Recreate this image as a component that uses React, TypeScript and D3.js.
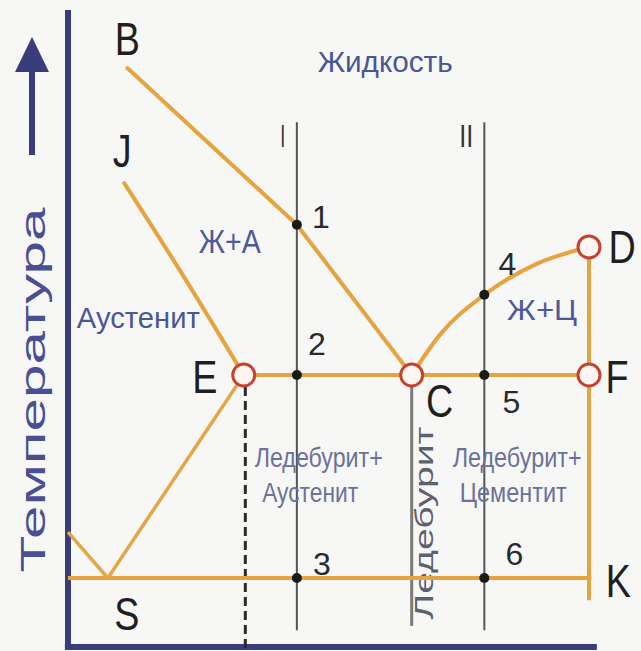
import React, { useEffect, useRef } from 'react';
import * as d3 from 'd3';

// Schematic Fe–Fe3C diagram, carbon content (%) vs temperature (°C)
const liquidusBC = [[0.76, 1782], [2.93, 1458], [4.4, 1147]];
const liquidusCD = [[4.4, 1147], [4.76, 1230], [5.33, 1313], [6.0, 1377], [6.67, 1412]];
const solidusJE = [[0.72, 1544], [1.43, 1364], [2.25, 1147]];
const lineES = [[2.25, 1147], [0.51, 727]];
const lineGS = [[0, 822], [0.51, 727]];
const eutecticECF = [[2.25, 1147], [6.67, 1147]];
const eutectoidPSK = [[0, 727], [6.7, 727]];
const cementiteDK = [[6.67, 1412], [6.67, 681]];

const pointNames = ['B', 'J', 'E', 'C', 'D', 'F', 'S', 'K'];
const pointCarbon = [0.76, 0.72, 2.25, 4.4, 6.67, 6.67, 0.51, 6.7];
const pointTemp = [1782, 1544, 1147, 1147, 1412, 1147, 727, 727];
const ringPoints = ['E', 'C', 'D', 'F'];

const crossNames = ['1', '2', '3', '4', '5', '6'];
const crossCarbon = [2.93, 2.93, 2.93, 5.33, 5.33, 5.33];
const crossTemp = [1458, 1147, 727, 1313, 1147, 727];

const alloyNames = ['I', 'II'];
const alloyCarbon = [2.93, 5.33];
const alloyTempRange = [1670, 619];
const ledeburiteCarbon = 4.4;

const regionTexts = ['Жидкость', 'Ж+А', 'Аустенит', 'Ж+Ц', 'Ледебурит+', 'Аустенит', 'Ледебурит+', 'Цементит'];
const regionCarbon = [4.06, 2.07, 0.9, 6.07, 3.21, 3.1, 5.75, 5.7];
const regionTemp = [1774, 1400, 1244, 1261, 957, 884, 957, 884];

const axisTempRange = [1902, 584];
const axisCarbonRange = [-0.04, 6.77];

const ORANGE = '#e5a43f';
const NAVY = '#3a3d7c';
const FONT = '"Liberation Sans", Arial, sans-serif';

export default function App() {
    const ref = useRef<SVGSVGElement>(null);

    useEffect(() => {
        const W = 641;
        const H = 651;
        const svg = d3.select(ref.current);
        svg.selectAll('*').remove();

        const x = d3.scaleLinear().domain([0, 6.67]).range([68, 589]);
        const y = d3.scaleLinear().domain([727, 1147]).range([578, 375]);
        const straight = d3.line<number[]>().x((d) => x(d[0])).y((d) => y(d[1]));
        const smooth = d3
            .line<number[]>()
            .x((d) => x(d[0]))
            .y((d) => y(d[1]))
            .curve(d3.curveMonotoneX);

        svg.append('rect').attr('width', W).attr('height', H).attr('fill', '#f7f7f5');

        // temperature arrow + title
        svg.append('rect').attr('x', 29).attr('y', 68).attr('width', 6).attr('height', 87).attr('fill', NAVY);
        svg.append('polygon').attr('points', '32,37 15,72 49,72').attr('fill', NAVY);
        svg.append('text')
            .attr('transform', 'translate(45,390) rotate(-90)')
            .attr('text-anchor', 'middle')
            .attr('font-family', FONT)
            .attr('font-size', 35)
            .attr('fill', '#4a4f92')
            .attr('textLength', 365)
            .attr('lengthAdjust', 'spacingAndGlyphs')
            .text('Температура');

        // axes
        svg.append('line')
            .attr('x1', x(0)).attr('x2', x(0))
            .attr('y1', y(axisTempRange[0])).attr('y2', y(axisTempRange[1]) + 3)
            .attr('stroke', NAVY).attr('stroke-width', 6);
        svg.append('line')
            .attr('x1', x(axisCarbonRange[0])).attr('x2', x(axisCarbonRange[1]))
            .attr('y1', y(axisTempRange[1])).attr('y2', y(axisTempRange[1]))
            .attr('stroke', NAVY).attr('stroke-width', 6);

        // alloy verticals and ledeburite line
        alloyCarbon.forEach((c, i) => {
            svg.append('line')
                .attr('x1', x(c)).attr('x2', x(c))
                .attr('y1', y(alloyTempRange[0])).attr('y2', y(alloyTempRange[1]))
                .attr('stroke', '#555').attr('stroke-width', 2);
            svg.append('text')
                .attr('x', x(c) + (i === 0 ? -14 : -18))
                .attr('y', y(alloyTempRange[0]) + 25)
                .attr('text-anchor', 'middle')
                .attr('font-family', FONT)
                .attr('font-size', 32)
                .attr('fill', '#333')
                .attr('textLength', i === 0 ? 5 : 14)
                .attr('lengthAdjust', 'spacingAndGlyphs')
                .text(alloyNames[i]);
        });
        svg.append('line')
            .attr('x1', x(ledeburiteCarbon)).attr('x2', x(ledeburiteCarbon))
            .attr('y1', y(1147)).attr('y2', y(628))
            .attr('stroke', '#7a7a7a').attr('stroke-width', 3);
        svg.append('text')
            .attr('transform', `translate(${x(ledeburiteCarbon) + 21},523) rotate(-90)`)
            .attr('text-anchor', 'middle')
            .attr('font-family', FONT)
            .attr('font-size', 26)
            .attr('fill', '#5d606e')
            .attr('textLength', 193)
            .attr('lengthAdjust', 'spacingAndGlyphs')
            .text('Ледебурит');

        // dashed line under E
        svg.append('line')
            .attr('x1', x(2.27)).attr('x2', x(2.27))
            .attr('y1', y(1147) + 12).attr('y2', H)
            .attr('stroke', '#2b2b2b').attr('stroke-width', 3).attr('stroke-dasharray', '9 5');

        // phase lines
        svg.append('path').attr('d', straight(liquidusBC)).attr('fill', 'none')
            .attr('stroke', ORANGE).attr('stroke-width', 4)
            .attr('stroke-linecap', 'round').attr('stroke-linejoin', 'round');
        [liquidusCD, solidusJE].forEach((d) => {
            svg.append('path').attr('d', smooth(d)).attr('fill', 'none')
                .attr('stroke', ORANGE).attr('stroke-width', 4).attr('stroke-linecap', 'round');
        });
        [lineES, lineGS].forEach((d) => {
            svg.append('path').attr('d', straight(d)).attr('fill', 'none')
                .attr('stroke', '#e2a848').attr('stroke-width', 3.5);
        });
        [eutecticECF, eutectoidPSK, cementiteDK].forEach((d) => {
            svg.append('path').attr('d', straight(d)).attr('fill', 'none')
                .attr('stroke', ORANGE).attr('stroke-width', 4);
        });

        // intersection dots and numbers
        const numOffset = [[24, 3], [20, -20], [25, -3], [23, -20], [27, 38], [30, -13]];
        crossNames.forEach((n, i) => {
            svg.append('circle').attr('cx', x(crossCarbon[i])).attr('cy', y(crossTemp[i]))
                .attr('r', 5).attr('fill', '#1a1a1a');
            svg.append('text')
                .attr('x', x(crossCarbon[i]) + numOffset[i][0])
                .attr('y', y(crossTemp[i]) + numOffset[i][1])
                .attr('text-anchor', 'middle')
                .attr('font-family', FONT)
                .attr('font-size', 32)
                .attr('fill', '#2a2a2a')
                .text(n);
        });

        // characteristic points
        const letterOffset: Record<string, number[]> = {
            B: [0, -13], J: [-2, -16], E: [-39, 18], C: [28, 42],
            D: [33, 16], F: [28, 18], S: [19, 52], K: [27, 19],
        };
        pointNames.forEach((n, i) => {
            const px = x(pointCarbon[i]);
            const py = y(pointTemp[i]);
            if (ringPoints.includes(n)) {
                svg.append('circle').attr('cx', px).attr('cy', py).attr('r', 11)
                    .attr('fill', '#fff6f2').attr('stroke', '#c4432f').attr('stroke-width', 3);
            }
            svg.append('text')
                .attr('transform', `translate(${px + letterOffset[n][0]},${py + letterOffset[n][1]}) scale(0.82,1)`)
                .attr('text-anchor', 'middle')
                .attr('font-family', FONT)
                .attr('font-size', 46)
                .attr('fill', '#1f1f1f')
                .text(n);
        });

        // region labels
        const regionSize = [30, 34, 29, 30, 27, 27, 27, 27];
        const regionWidth = [135, 62, 123, 70, 128, 96, 129, 107];
        const regionFill = ['#4b5694', '#4e5a98', '#4b5694', '#4e5a98', '#6a7299', '#6a7299', '#6a7299', '#6a7299'];
        regionTexts.forEach((t, i) => {
            svg.append('text')
                .attr('x', x(regionCarbon[i]))
                .attr('y', y(regionTemp[i]))
                .attr('text-anchor', 'middle')
                .attr('font-family', FONT)
                .attr('font-size', regionSize[i])
                .attr('fill', regionFill[i])
                .attr('textLength', regionWidth[i])
                .attr('lengthAdjust', 'spacingAndGlyphs')
                .text(t);
        });
    }, []);

    return (
        <svg
            ref={ref}
            width={641}
            height={651}
            style={{ position: 'absolute', left: 0, top: 0, display: 'block' }}
        />
    );
}
